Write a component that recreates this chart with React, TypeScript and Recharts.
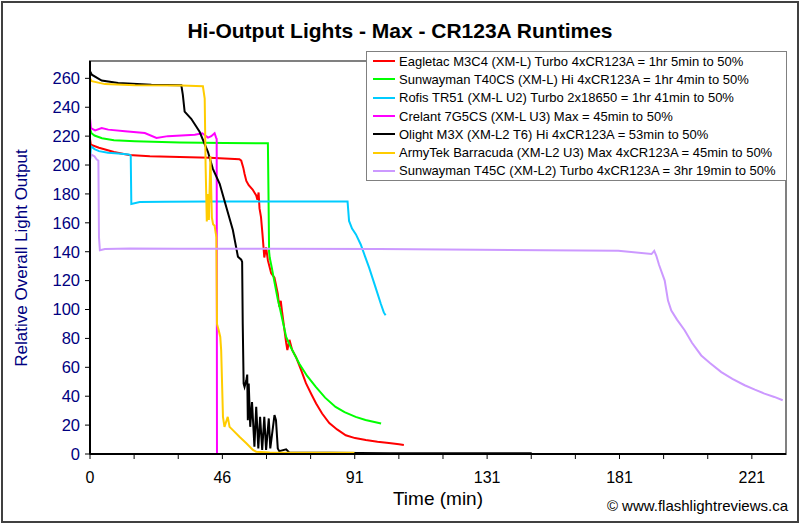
import {
  LineChart,
  Line,
  XAxis,
  YAxis,
  Legend,
  ReferenceArea,
} from 'recharts'

const FONT = '"Liberation Sans", Arial, sans-serif'

// time axis: one tick every 221/15 min, label on every 3rd tick
const xTickLabels = ['0', '46', '91', '131', '181', '221']
const xTickStep = 221 / 15
const xTicks = Array.from({ length: 16 }, (_, i) => i * xTickStep)
const xMax = 232.4
const yTicks = [0, 20, 40, 60, 80, 100, 120, 140, 160, 180, 200, 220, 240, 260]
const yMax = 272

// [time (min), relative output]
const eagletacM3C4: [number, number][] = [
  [0, 218], [0.3, 214], [3, 212], [8, 209], [13, 207], [20, 206], [30, 205.6],
  [40, 205], [49.9, 204], [50.5, 203], [51.2, 198], [51.6, 194], [52.2, 189],
  [53, 186], [54.3, 183], [55.5, 179], [55.9, 176], [56.3, 181], [56.6, 170],
  [57.1, 164], [57.6, 152], [58.2, 136], [58.8, 143], [59.4, 134], [60.5, 125],
  [61.6, 122], [62.7, 111], [63.2, 102], [63.7, 106], [64.1, 99], [64.8, 88],
  [65.5, 77], [65.9, 72], [66.6, 79], [67.5, 72], [68.8, 67], [70.5, 58],
  [72.1, 49], [74, 41], [75.5, 35], [77.5, 28], [79.9, 21.4], [82.5, 17],
  [85.4, 13], [88.5, 11], [92.1, 9.7], [96, 8.5], [99.8, 7.6], [103.2, 6.7],
  [104.8, 6.2],
]
const sunwaymanT40CS: [number, number][] = [
  [0, 225], [0.5, 222], [1.5, 220.4], [4, 218.5], [8, 217.2], [15, 216.5],
  [30, 215.6], [45, 215.3], [59.4, 215], [59.6, 180], [59.8, 140], [60, 136],
  [60.7, 129], [61.5, 120], [62.7, 107], [63.5, 100], [65.5, 81], [67, 74],
  [69.9, 62.5], [72.5, 54], [75.4, 46.4], [78.5, 39], [82, 32.6], [85, 29],
  [88.7, 25.7], [92, 23.5], [97.2, 21.1],
]
const rofisTR51: [number, number][] = [
  [0, 203], [0.3, 213], [1.5, 211], [3, 209.6], [6, 208.5], [9.4, 208],
  [13, 207.3], [13.6, 206.5], [13.8, 173], [16.6, 174.4], [25, 174.6],
  [40, 174.8], [60, 174.8], [86, 174.8], [86.5, 161.3], [87.5, 156],
  [88.8, 152], [90.4, 145], [91.8, 137], [93.2, 129], [95.4, 115],
  [97.1, 104], [98.1, 98], [98.7, 96],
]
const crelant7G5CS: [number, number][] = [
  [0, 232.5], [0.3, 225.6], [1.7, 224], [3.9, 225.6], [6.1, 224.5],
  [11.7, 223.4], [18.3, 222.2], [22.2, 218.8], [26, 220], [35, 221],
  [37.5, 222], [39.4, 219], [40.5, 220], [41.6, 222], [42.1, 219],
  [42.3, 218], [42.4, 0], [50.3, 0],
]
const olightM3X: [number, number][] = [
  [0, 265], [0.6, 262.5], [3.9, 258.5], [9.4, 256.8], [20.5, 255.6],
  [30.5, 255.2], [31, 248.5], [31.6, 237], [33.8, 232], [36.6, 223],
  [39.4, 209], [41, 197.5], [43.3, 187], [45.5, 171], [47.7, 155],
  [49.4, 136.5], [50.5, 134.5], [50.8, 133], [51, 90], [51.3, 48.7],
  [51.6, 46.4], [52.2, 51], [52.5, 55], [52.7, 23.4], [53, 48.7], [53.5, 18.8],
  [54.1, 36], [54.9, 5], [55.5, 32.6], [56.2, 3.9], [56.8, 25.7], [57.5, 2.8],
  [58.2, 25.7], [58.8, 2.8], [59.7, 24.6], [60.2, 3.9], [61.6, 26.9],
  [62.1, 23.4], [62.7, 3.9], [63.2, 2], [65.5, 3.2], [66.5, 1], [80, 0.8],
  [100, 0.6], [120, 0.5], [147.5, 0.5],
]
const armytekBarracuda: [number, number][] = [
  [0, 260], [0.6, 258], [5, 256], [15, 255.2], [30.5, 255], [37.7, 254.5],
  [38.3, 246], [38.6, 200], [39, 161], [39.4, 180], [39.7, 162], [40.2, 206],
  [40.7, 163.6], [41.1, 159], [41.6, 158], [42.2, 150], [42.4, 90], [43, 85.5],
  [43.5, 81], [43.8, 71.7], [44.4, 25.7], [44.9, 18.8], [46, 25.7],
  [46.6, 18.8], [47.7, 16.5], [49.9, 11.9], [52.2, 7.4], [54.4, 2.8],
  [55.5, 1.6], [60, 1], [88.3, 0.8],
]
const sunwaymanT45C: [number, number][] = [
  [0, 204], [0.3, 207.3], [1.5, 206], [2.2, 204], [2.8, 203], [3, 150],
  [3.3, 141], [5, 141.8], [13.3, 142.2], [30, 142], [60, 142], [96.5, 141.8],
  [129.8, 141.3], [176.4, 140.6], [187.5, 138.4], [188.4, 140.6],
  [189.1, 137.2], [190, 131], [191.9, 120], [193, 106.2], [194.1, 99.3],
  [196, 93], [198.6, 85.5], [201, 77], [204.1, 68.2], [207, 63], [210.8, 56.7],
  [214.5, 52], [218.6, 47.6], [222, 44.5], [225.2, 41.8], [228.5, 39.5],
  [231.3, 37.2],
]

const series = [
  { name: 'Eagletac M3C4 (XM-L) Turbo 4xCR123A = 1hr 5min to 50%', color: '#FF0000', points: eagletacM3C4 },
  { name: 'Sunwayman T40CS (XM-L) Hi 4xCR123A = 1hr 4min to 50%', color: '#00FF00', points: sunwaymanT40CS },
  { name: 'Rofis TR51 (XM-L U2) Turbo 2x18650 = 1hr 41min to 50%', color: '#00CCFF', points: rofisTR51 },
  { name: 'Crelant 7G5CS (XM-L U3) Max = 45min to 50%', color: '#FF00FF', points: crelant7G5CS },
  { name: 'Olight M3X (XM-L2 T6) Hi 4xCR123A = 53min to 50%', color: '#000000', points: olightM3X },
  { name: 'ArmyTek Barracuda (XM-L2 U3) Max 4xCR123A = 45min to 50%', color: '#FFCC00', points: armytekBarracuda },
  { name: 'Sunwayman T45C (XM-L2) Turbo 4xCR123A = 3hr 19min to 50%', color: '#CC99FF', points: sunwaymanT45C },
]

function LegendBox() {
  return (
    <div
      style={{
        boxSizing: 'border-box',
        width: 421,
        height: 130,
        border: '1px solid #808080',
        background: '#fff',
        fontFamily: FONT,
        fontSize: 13,
        color: '#000',
      }}
    >
      {series.map((s) => (
        <div key={s.name} style={{ display: 'flex', alignItems: 'center', height: 18.3 }}>
          <span style={{ width: 22, height: 2, background: s.color, marginLeft: 6, marginRight: 4 }} />
          <span style={{ whiteSpace: 'nowrap' }}>{s.name}</span>
        </div>
      ))}
    </div>
  )
}

export default function App() {
  return (
    <div style={{ position: 'absolute', left: 0, top: 0, width: 800, height: 524, background: '#fff', fontFamily: FONT }}>
      <LineChart
        width={800}
        height={524}
        margin={{ top: 61, right: 14, left: 30, bottom: 40 }}
      >
        <ReferenceArea x1={0} x2={xMax} y1={0} y2={yMax} fill="none" stroke="#808080" strokeWidth={2} />
        <XAxis
          type="number"
          dataKey="t"
          domain={[0, xMax]}
          ticks={xTicks}
          interval={0}
          height={30}
          tickSize={5}
          tickMargin={13}
          tickFormatter={(v: number, i: number) => (i % 3 === 0 ? xTickLabels[i / 3] : '')}
          tick={{ fill: '#000', fontSize: 16, fontFamily: FONT }}
          axisLine={{ stroke: '#000', strokeWidth: 2 }}
          tickLine={{ stroke: '#000' }}
          allowDataOverflow
        />
        <YAxis
          type="number"
          domain={[0, yMax]}
          ticks={yTicks}
          interval={0}
          width={60}
          tickSize={5}
          tickMargin={5}
          tick={{ fill: '#000080', fontSize: 16.5, fontFamily: FONT }}
          axisLine={{ stroke: '#000', strokeWidth: 2 }}
          tickLine={{ stroke: '#000' }}
          allowDataOverflow
        />
        {series.map((s) => (
          <Line
            key={s.name}
            data={s.points.map(([t, v]) => ({ t, v }))}
            dataKey="v"
            name={s.name}
            type="linear"
            stroke={s.color}
            strokeWidth={2}
            dot={false}
            activeDot={false}
            isAnimationActive={false}
          />
        ))}
        <Legend
          layout="vertical"
          align="center"
          verticalAlign="middle"
          content={() => <LegendBox />}
          wrapperStyle={{ left: 366, top: 51, width: 421, height: 130 }}
        />
      </LineChart>

      <div style={{ position: 'absolute', left: 0, top: 19, width: 800, textAlign: 'center', fontSize: 21, fontWeight: 'bold', lineHeight: '24px' }}>
        Hi-Output Lights - Max - CR123A Runtimes
      </div>
      <div
        style={{
          position: 'absolute',
          left: 22,
          top: 258,
          transform: 'translate(-50%, -50%) rotate(-90deg)',
          whiteSpace: 'nowrap',
          fontSize: 17,
          color: '#000080',
        }}
      >
        Relative Overall Light Output
      </div>
      <div style={{ position: 'absolute', left: 338, top: 488, width: 200, textAlign: 'center', fontSize: 19, lineHeight: '22px' }}>
        Time (min)
      </div>
      <div style={{ position: 'absolute', right: 12, top: 497, fontSize: 15, lineHeight: '18px', whiteSpace: 'nowrap' }}>
        © www.flashlightreviews.ca
      </div>
      <div style={{ position: 'absolute', left: 1, top: 1, width: 798, height: 522, boxSizing: 'border-box', border: '2px solid #404040', pointerEvents: 'none' }} />
    </div>
  )
}
